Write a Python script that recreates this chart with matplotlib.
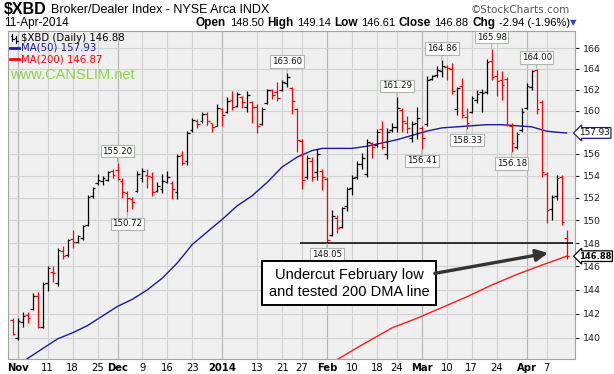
import numpy as np
import pandas as pd
import matplotlib
matplotlib.use('Agg')
import matplotlib.pyplot as plt
from matplotlib.lines import Line2D
from matplotlib.ticker import NullLocator

# trading days on the chart
holidays = ['2013-11-28', '2013-12-25', '2014-01-01', '2014-01-20', '2014-02-17']
dates = pd.bdate_range('2013-10-31', '2014-04-11')
dates = dates[~dates.isin(pd.to_datetime(holidays))]

# daily OHLC (Oct 31 .. Apr 11)
opens = [141.5,
         140.0, 141.3, 141.9, 142.4, 143.5, 140.9, 144.6, 145.5, 144.6, 147.3, 147.0, 148.4, 148.1, 148.5, 149.6, 152.2, 153.3, 153.5, 153.6, 154.4,
         154.5, 153.5, 152.4, 151.9, 152.6, 153.8, 154.1, 153.9, 152.6, 152.8, 153.4, 153.3, 152.5, 155.9, 155.3, 158.2, 159.0, 159.0, 159.7, 158.9, 158.6,
         160.2, 159.9, 161.0, 160.5, 161.3, 160.4, 160.8, 160.4, 158.8, 160.7, 162.0, 161.8, 162.0, 162.6, 162.2, 160.2, 157.2, 153.9, 155.3, 154.3, 154.4,
         153.7, 148.7, 150.2, 149.4, 151.3, 152.9, 153.9, 155.1, 154.2, 157.0, 156.8, 158.3, 156.0, 158.2, 158.5, 160.1, 158.9, 157.5, 158.9,
         158.4, 158.8, 163.0, 163.4, 163.8, 164.2, 164.0, 160.2, 162.4, 159.4, 159.9, 161.0, 161.8, 161.8, 164.8, 163.3, 162.9, 163.0, 158.6, 156.6, 158.2,
         160.3, 162.3, 163.9, 160.8, 154.2, 151.0, 152.2, 153.9, 148.50]
highs = [141.6,
         141.6, 142.1, 142.1, 143.7, 143.8, 144.7, 146.0, 146.0, 147.6, 147.8, 148.4, 149.2, 148.7, 149.6, 152.3, 153.0, 154.2, 154.0, 154.4, 154.6,
         155.2, 153.8, 152.6, 152.1, 154.4, 154.7, 154.6, 154.3, 153.4, 154.2, 154.4, 153.5, 156.0, 156.3, 158.1, 159.3, 159.2, 159.9, 159.9, 158.9, 160.6,
         160.3, 161.3, 161.9, 161.8, 161.4, 161.9, 160.9, 160.6, 160.4, 162.1, 162.1, 162.7, 162.9, 163.6, 162.3, 160.3, 157.4, 155.9, 155.7, 156.4, 154.6,
         153.9, 150.9, 150.5, 151.2, 153.0, 154.1, 155.3, 156.1, 157.4, 157.1, 158.3, 159.0, 158.4, 158.9, 161.29, 160.3, 159.5, 159.0, 160.4,
         158.6, 163.3, 163.4, 164.3, 164.86, 164.4, 164.6, 162.3, 163.1, 160.3, 161.4, 162.0, 162.1, 165.0, 165.98, 163.9, 163.8, 163.2, 158.9, 158.0, 160.3,
         162.6, 163.9, 164.0, 161.0, 154.3, 152.3, 154.1, 154.1, 149.14]
lows = [140.2,
        139.8, 140.9, 141.2, 142.3, 140.8, 140.8, 143.9, 144.7, 144.3, 146.6, 146.8, 147.6, 148.0, 148.3, 149.5, 152.0, 153.2, 153.2, 153.5, 153.8,
        153.6, 152.0, 150.72, 151.0, 152.5, 153.4, 152.9, 152.2, 152.5, 152.4, 153.3, 151.9, 151.9, 155.0, 155.0, 158.0, 158.4, 158.9, 158.7, 158.0, 158.6,
        158.6, 159.8, 160.1, 160.4, 160.3, 159.9, 158.9, 157.9, 158.7, 160.6, 161.1, 160.9, 161.9, 162.3, 159.7, 156.2, 152.8, 153.7, 153.5, 153.6, 152.7,
        148.05, 148.6, 148.9, 149.3, 150.8, 152.3, 153.7, 154.6, 153.9, 155.6, 156.6, 156.4, 155.5, 158.0, 158.0, 158.0, 157.9, 157.1, 157.4,
        156.41, 158.6, 162.9, 163.2, 163.2, 162.9, 161.6, 159.6, 159.3, 158.33, 159.8, 160.7, 159.9, 161.6, 162.9, 161.4, 161.0, 158.6, 156.18, 156.4, 158.0,
        160.2, 162.0, 159.7, 153.9, 149.8, 150.0, 151.8, 149.6, 146.61]
closes = [140.3,
          141.4, 141.8, 141.6, 143.5, 140.9, 144.5, 145.9, 145.4, 147.4, 146.9, 148.3, 148.1, 148.6, 149.5, 152.1, 152.9, 153.6, 153.8, 154.3, 154.1,
          153.7, 152.5, 152.0, 151.6, 154.2, 154.4, 154.0, 152.5, 153.1, 153.5, 153.9, 152.8, 155.8, 155.2, 157.9, 159.1, 158.8, 159.7, 159.0, 158.5, 160.3,
          159.6, 160.9, 160.4, 161.6, 160.8, 161.5, 160.4, 158.6, 160.2, 162.0, 161.5, 161.2, 162.7, 163.2, 160.9, 157.3, 153.6, 155.6, 153.9, 156.0, 153.9,
          148.3, 150.4, 149.3, 151.1, 152.8, 153.8, 155.1, 155.6, 157.1, 156.6, 158.0, 156.6, 158.0, 158.5, 160.3, 159.0, 158.4, 158.8, 159.3,
          157.5, 162.9, 163.3, 163.9, 164.3, 164.1, 161.9, 162.2, 159.6, 158.9, 161.2, 161.6, 161.7, 164.7, 163.2, 162.8, 162.5, 158.7, 157.0, 157.8, 159.9,
          162.4, 163.8, 160.2, 154.3, 150.9, 152.1, 153.8, 149.82, 146.88]

# moving averages
ma50_dates = ['2013-11-01', '2013-11-05', '2013-11-08', '2013-11-13', '2013-11-18', '2013-11-21', '2013-11-26',
              '2013-12-02', '2013-12-05', '2013-12-10', '2013-12-13', '2013-12-18', '2013-12-23', '2013-12-27',
              '2014-01-02', '2014-01-07', '2014-01-10', '2014-01-15', '2014-01-21', '2014-01-24', '2014-01-29', '2014-01-31',
              '2014-02-05', '2014-02-10', '2014-02-13', '2014-02-19', '2014-02-24', '2014-02-27',
              '2014-03-04', '2014-03-07', '2014-03-12', '2014-03-17', '2014-03-20', '2014-03-25', '2014-03-28',
              '2014-04-02', '2014-04-07', '2014-04-09', '2014-04-11']
ma50_vals = [137.8, 138.3, 139.1, 139.9, 140.4, 141.0, 141.8,
             142.6, 143.2, 144.0, 145.0, 146.3, 147.9, 149.0,
             150.1, 151.3, 152.2, 153.4, 154.8, 155.7, 156.3, 156.5,
             156.5, 156.5, 156.7, 157.0, 157.3, 157.7,
             158.1, 158.4, 158.5, 158.6, 158.7, 158.7, 158.6,
             158.5, 158.1, 158.0, 157.93]
ma200_dates = ['2014-02-05', '2014-02-12', '2014-02-21', '2014-02-28', '2014-03-07', '2014-03-14',
               '2014-03-21', '2014-03-28', '2014-04-04', '2014-04-11']
ma200_vals = [138.2, 139.4, 140.8, 141.6, 142.5, 143.4, 144.4, 145.3, 146.1, 146.87]

# boxed high/low labels
peak_dates = ['2013-12-02', '2013-12-04', '2014-01-22', '2014-02-03', '2014-02-24', '2014-03-03',
              '2014-03-07', '2014-03-14', '2014-03-21', '2014-03-27', '2014-04-03']
peak_vals = [155.20, 150.72, 163.60, 148.05, 161.29, 156.41, 164.86, 158.33, 165.98, 156.18, 164.00]
peak_side = ['up', 'down', 'up', 'down', 'up', 'down', 'up', 'down', 'up', 'down', 'up']

tick_dates = ['2013-11-01', '2013-11-11', '2013-11-18', '2013-11-25', '2013-12-02', '2013-12-09', '2013-12-16',
              '2013-12-23', '2014-01-02', '2014-01-13', '2014-01-21', '2014-01-27', '2014-02-03', '2014-02-10',
              '2014-02-18', '2014-02-24', '2014-03-03', '2014-03-10', '2014-03-17', '2014-03-24', '2014-04-01', '2014-04-07']
tick_labels = ['Nov', '11', '18', '25', 'Dec', '9', '16', '23', '2014', '13', '21', '27', 'Feb', '10',
               '18', '24', 'Mar', '10', '17', '24', 'Apr', '7']
month_labels = {'Nov', 'Dec', '2014', 'Feb', 'Mar', 'Apr'}

support_level = 148.05


def pos(d):
    return dates.get_loc(pd.Timestamp(d))


W, H = 614, 374
fig = plt.figure(figsize=(W / 100, H / 100), dpi=100)
fig.patch.set_facecolor('white')
ax = fig.add_axes([8 / W, 1 - 359 / H, 567 / W, 328 / H])
ax.set_facecolor('#efefef')

x = np.arange(len(dates))
o, h, l, c = map(np.array, (opens, highs, lows, closes))
prev = np.concatenate([[o[0]], c[:-1]])
cols = np.where(c < prev, '#ff0000', '#000000')

ax.vlines(x, l, h, colors=cols, lw=0.9, zorder=4)
ax.hlines(o, x - 0.55, x, colors=cols, lw=0.9, zorder=4)
ax.hlines(c, x, x + 0.55, colors=cols, lw=0.9, zorder=4)

ax.plot([pos(d) for d in ma50_dates], ma50_vals, color='#1a1a9c', lw=1.0, zorder=3)
ax.plot([pos(d) for d in ma200_dates], ma200_vals, color='#ff1a1a', lw=1.0, zorder=3)

ax.set_yscale('log')
ax.set_xlim(-0.95, 112.7)
ax.set_ylim(138.25, 167.7)

yt = list(range(140, 168, 2))
ax.set_yticks(yt)
ax.yaxis.set_minor_locator(NullLocator())
ax.set_yticklabels(['' if v == 158 else str(v) for v in yt])
ax.yaxis.tick_right()
ax.tick_params(axis='y', length=3, pad=3, labelsize=6.8, colors='#222222')
ax.grid(axis='y', color='#d2d2d2', lw=0.8, zorder=0)

tpos = [pos(d) for d in tick_dates]
ax.set_xticks(tpos)
ax.set_xticklabels(tick_labels)
ax.tick_params(axis='x', length=0, pad=3, labelsize=7.2)
for t in ax.get_xticklabels():
    if t.get_text() in month_labels:
        t.set_fontweight('bold')
for p, lab in zip(tpos, tick_labels):
    ax.axvline(p, color='#b4b4b4' if lab in month_labels else '#d2d2d2', lw=0.8, zorder=1)

for s in ax.spines.values():
    s.set_color('#9aa89a')
    s.set_linewidth(0.8)

# support line at the February low
ax.hlines(support_level, pos('2014-01-24') + 0.5, 112.2, color='black', lw=1.1, zorder=5)

# boxed high / low labels
for d, v, side in zip(peak_dates, peak_vals, peak_side):
    up = side == 'up'
    ax.annotate(f'{v:.2f}', xy=(pos(d), v), xytext=(0, 5 if up else -5), textcoords='offset points',
                ha='center', va='bottom' if up else 'top', fontsize=6.2, color='#111111', zorder=6,
                bbox=dict(boxstyle='square,pad=0.2', fc='white', ec='#a9b8a9', lw=0.8),
                arrowprops=dict(arrowstyle='-', color='#a9b8a9', lw=0.8, shrinkA=0, shrinkB=0.5))

# last value tags on the right axis
ax.annotate('157.93', xy=(1, 157.93), xycoords=('axes fraction', 'data'), xytext=(3, 0),
            textcoords='offset points', va='center', ha='left', fontsize=6.4, color='#111111',
            annotation_clip=False, zorder=10,
            bbox=dict(boxstyle='larrow,pad=0.1', fc='white', ec='#1a1a9c', lw=0.9))
ax.annotate('146.88', xy=(1, 146.88), xycoords=('axes fraction', 'data'), xytext=(3, 0),
            textcoords='offset points', va='center', ha='left', fontsize=6.0, fontweight='bold',
            color='black', annotation_clip=False, zorder=10,
            bbox=dict(boxstyle='larrow,pad=0.1', fc='white', ec='black', lw=0.9))

# comment box and arrow
ax.text(67.4, 144.55, 'Undercut February low\nand tested 200 DMA line', ha='center', va='center',
        fontsize=10.5, family='Liberation Sans', linespacing=1.25, zorder=8,
        bbox=dict(boxstyle='square,pad=0.45', fc='white', ec='black', lw=1.4))
ax.annotate('', xy=(107.3, 147.15), xytext=(84.6, 145.4),
            arrowprops=dict(arrowstyle='-|>,head_length=0.7,head_width=0.35', color='#333333',
                            lw=2.4, shrinkA=0, shrinkB=0), zorder=8)


def fx(px):
    return px / W


def fy(py):
    return 1 - py / H


renderer = fig.canvas.get_renderer()


def text_row(pieces, x0, y, gap):
    # place text pieces one after another, measuring each one
    xpos = x0
    for txt, kw in pieces:
        t = fig.text(fx(xpos), fy(y), txt, va='center', **kw)
        xpos += t.get_window_extent(renderer).width + gap
    return xpos


# header
lib = dict(family='Liberation Sans')
text_row([('$XBD', dict(fontsize=11.5, fontweight='bold', **lib)),
          ('Broker/Dealer Index - NYSE Arca INDX', dict(fontsize=9, **lib))], 4, 10, 4)
fig.text(fx(4), fy(23), '11-Apr-2014', fontsize=8.5, va='center', **lib)
fig.text(fx(570), fy(10), '\u00a9StockCharts.com', fontsize=7.5, color='#555555', ha='right', va='center')

b = dict(fontsize=8.5, fontweight='bold', **lib)
n = dict(fontsize=8, **lib)
text_row([('Open', b), ('148.50', n), ('High', b), ('149.14', n), ('Low', b), ('146.61', n),
          ('Close', b), ('146.88', n), ('Chg', b), ('-2.94 (-1.96%)', n)], 196, 23, 3.5)
fig.text(fx(573), fy(23), '\u25bc', fontsize=6, color='#1f3fe0', ha='center', va='center')

# legend block inside the plot
fig.text(fx(21), fy(38), '$XBD (Daily) 146.88', fontsize=7.3, va='center')
fig.text(fx(21), fy(48), 'MA(50) 157.93', fontsize=7.3, color='#1a1a9c', va='center')
fig.text(fx(21), fy(59), 'MA(200) 146.87', fontsize=7.3, color='#ff0000', va='center')
fig.add_artist(Line2D([fx(10), fx(19)], [fy(48), fy(48)], color='#1a1a9c', lw=2))
fig.add_artist(Line2D([fx(10), fx(19)], [fy(59), fy(59)], color='#ff0000', lw=2))
for a, top in [(12, 34), (16, 36)]:
    fig.add_artist(Line2D([fx(a), fx(a)], [fy(top), fy(top + 7)], color='black', lw=0.8))
    fig.add_artist(Line2D([fx(a - 1.5), fx(a)], [fy(top + 2), fy(top + 2)], color='black', lw=0.8))
    fig.add_artist(Line2D([fx(a), fx(a + 1.5)], [fy(top + 5), fy(top + 5)], color='black', lw=0.8))
fig.text(fx(10), fy(75), 'www.CANSLIM.net', fontsize=10.5, color='#8ed34c', va='center', **lib)

fig.savefig('out.png', dpi=100)
